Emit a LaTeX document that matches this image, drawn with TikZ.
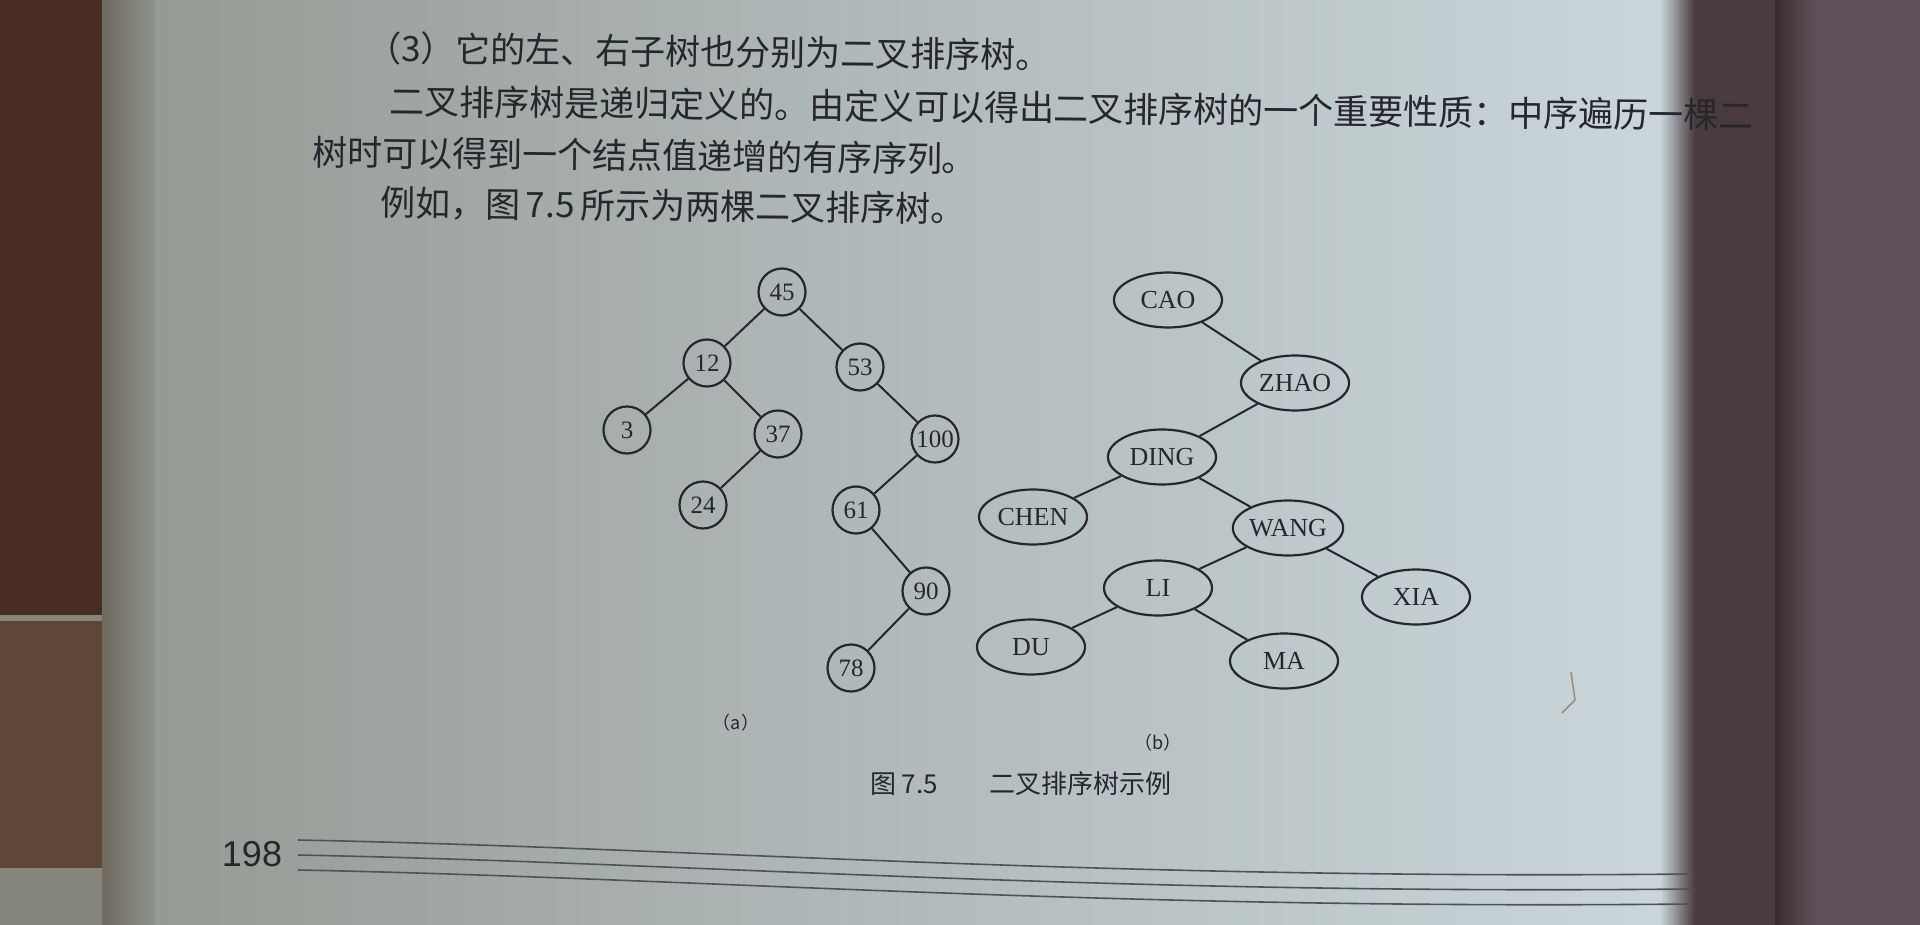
\documentclass[tikz,border=0pt]{standalone}
\usepackage{fontspec}
\setmainfont{Liberation Serif}
\newfontfamily\cjk{Noto Sans CJK SC}
\newfontfamily\pgsans{Liberation Sans}
\definecolor{leftbrown}{HTML}{4B2C25}
\definecolor{midbrown}{HTML}{5F4636}
\definecolor{greybot}{HTML}{85857C}
\definecolor{edgeA}{HTML}{6F6A5E}
\definecolor{edgeB}{HTML}{8E938B}
\definecolor{pageL}{HTML}{959A93}
\definecolor{pageM}{HTML}{AEB7B7}
\definecolor{pageR}{HTML}{CAD6DA}
\definecolor{gutter}{HTML}{4A3B3E}
\definecolor{gutterdark}{HTML}{3A2C2E}
\definecolor{rightpage}{HTML}{5E5058}
\definecolor{ink}{HTML}{25272D}
\definecolor{pencil}{HTML}{A08A70}
\tikzset{
  txt/.style={anchor=west, inner sep=0pt, text=ink, font=\cjk\fontsize{35}{40}\selectfont, rotate=-0.6},
  circ/.style={circle, draw=ink, line width=2.2pt, minimum size=47pt, inner sep=0pt, text=ink, font=\fontsize{25}{30}\selectfont},
  ell/.style={ellipse, draw=ink, line width=2.2pt, minimum width=108pt, minimum height=55pt, inner sep=0pt, text=ink, font=\fontsize{26}{30}\selectfont},
  edge/.style={draw=ink, line width=2pt},
  sublabel/.style={inner sep=0pt, text=ink, font=\cjk\fontsize{18}{20}\selectfont},
  rule/.style={draw=ink!80, line width=1.6pt}
}
\usetikzlibrary{shapes.geometric}
\begin{document}
\begin{tikzpicture}[x=1pt,y=-1pt]
\useasboundingbox (0,0) rectangle (1920,925);
% photo background
\fill[leftbrown] (0,0) rectangle (102,615);
\fill[greybot] (0,615) rectangle (102,621);
\fill[midbrown] (0,621) rectangle (102,868);
\fill[greybot] (0,868) rectangle (102,925);
\shade[left color=edgeA, right color=edgeB] (102,0) rectangle (155,925);
\shade[left color=pageL, right color=pageM] (155,0) rectangle (800,925);
\shade[left color=pageM, right color=pageR] (800,0) rectangle (1660,925);
\shade[left color=pageR, right color=gutter] (1660,0) rectangle (1695,925);
\fill[gutter] (1695,0) rectangle (1795,925);
\shade[left color=gutterdark, right color=rightpage] (1775,0) rectangle (1815,925);
\fill[rightpage] (1815,0) rectangle (1920,925);

% body text
\node[txt] (l1) at (366,48) {（3）它的左、右子树也分别为二叉排序树。};
\node[txt] (l2) at (389,101) {二叉排序树是递归定义的。由定义可以得出二叉排序树的一个重要性质：中序遍历一棵二};
\node[txt] (l3) at (312,152) {树时可以得到一个结点值递增的有序序列。};
\node[txt] (l4) at (380,203) {例如，图\,7.5\,所示为两棵二叉排序树。};

% tree (a)
\node[circ] (a45) at (782,292) {45};
\node[circ] (a12) at (707,363) {12};
\node[circ] (a53) at (860,367) {53};
\node[circ] (a3) at (627,430) {3};
\node[circ] (a37) at (778,434) {37};
\node[circ] (a100) at (935,439) {100};
\node[circ] (a24) at (703,505) {24};
\node[circ] (a61) at (856,510) {61};
\node[circ] (a90) at (926,591) {90};
\node[circ] (a78) at (851,668) {78};
\draw[edge] (a45) -- (a12);
\draw[edge] (a45) -- (a53);
\draw[edge] (a12) -- (a3);
\draw[edge] (a12) -- (a37);
\draw[edge] (a37) -- (a24);
\draw[edge] (a53) -- (a100);
\draw[edge] (a100) -- (a61);
\draw[edge] (a61) -- (a90);
\draw[edge] (a90) -- (a78);

% tree (b)
\node[ell] (cao) at (1168,300) {CAO};
\node[ell] (zhao) at (1295,383) {ZHAO};
\node[ell] (ding) at (1162,457) {DING};
\node[ell] (chen) at (1033,517) {CHEN};
\node[ell] (wang) at (1288,528) {WANG};
\node[ell] (li) at (1158,588) {LI};
\node[ell] (xia) at (1416,597) {XIA};
\node[ell] (du) at (1031,647) {DU};
\node[ell] (ma) at (1284,661) {MA};
\draw[edge] (cao) -- (zhao);
\draw[edge] (zhao) -- (ding);
\draw[edge] (ding) -- (chen);
\draw[edge] (ding) -- (wang);
\draw[edge] (wang) -- (li);
\draw[edge] (wang) -- (xia);
\draw[edge] (li) -- (du);
\draw[edge] (li) -- (ma);

% labels and caption
\node[sublabel] (la) at (736,723) {（a）};
\node[sublabel] (lb) at (1158,743) {（b）};
\node[inner sep=0pt, text=ink, font=\cjk\fontsize{26}{30}\selectfont] (cap) at (1021,784) {图 7.5\hspace{2em}二叉排序树示例};

% page number and footer rules
\node[inner sep=0pt, text=ink, font=\pgsans\fontsize{36}{40}\selectfont] (pg) at (252,854) {198};
\foreach \d in {0,15,30}{
  \draw[rule] (298,840+\d) .. controls (700,848+\d) and (1100,880+\d) .. (1690,874+\d);
}
% pencil mark
\draw[pencil, line width=1.5pt] (1571,672) -- (1575,700) -- (1562,713);
\end{tikzpicture}
\end{document}
